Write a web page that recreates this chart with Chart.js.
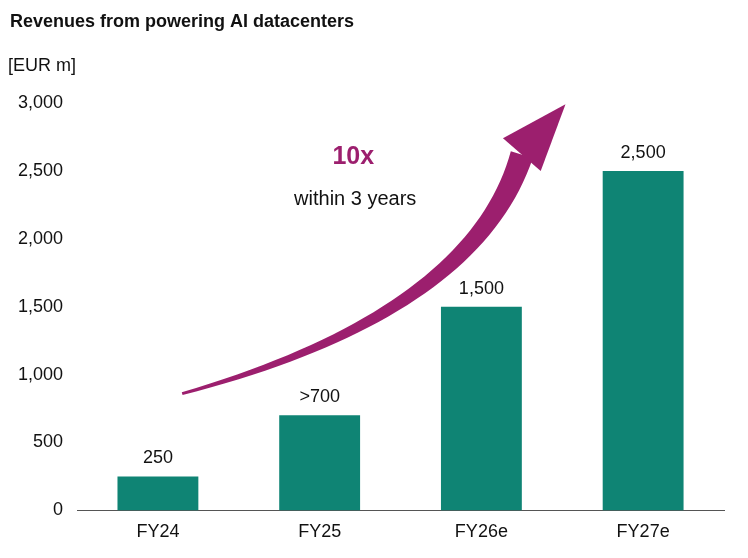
<!DOCTYPE html>
<html>
<head>
<meta charset="UTF-8">
<script src="https://cdn.jsdelivr.net/npm/chart.js"></script>
<style>
  body { margin: 0; background: #fff; }
  #wrap { width: 748px; height: 558px; position: relative; }
</style>
</head>
<body>
<div id="wrap"><canvas id="c"></canvas></div>
<script>
const categories = ['FY24', 'FY25', 'FY26e', 'FY27e'];
const revenues = [250, 700, 1500, 2500];
const valueLabels = ['250', '>700', '1,500', '2,500'];
const yTicks = [0, 500, 1000, 1500, 2000, 2500, 3000];

const teal = '#0f8474';
const magenta = '#9c1f6e';
const font = "'Liberation Sans', Arial, sans-serif";

const decorations = {
  id: 'decorations',
  afterDatasetsDraw(chart) {
    const { ctx, scales: { x, y } } = chart;
    ctx.save();
    // title
    ctx.fillStyle = '#111';
    ctx.font = 'bold 18px ' + font;
    ctx.textBaseline = 'middle';
    ctx.textAlign = 'left';
    ctx.fillText('Revenues from powering AI datacenters', 10, 22);
    ctx.font = '18px ' + font;
    ctx.fillText('[EUR m]', 8, 66);

    // value labels
    ctx.textAlign = 'center';
    ctx.textBaseline = 'bottom';
    ctx.font = '18px ' + font;
    chart.getDatasetMeta(0).data.forEach((bar, i) => {
      ctx.fillText(valueLabels[i], bar.x, bar.y - 9);
    });

    // growth arrow, positioned from the scales
    const step = x.getPixelForValue(1) - x.getPixelForValue(0);
    const p0 = { x: x.getPixelForValue(0) + step * 0.15, y: y.getPixelForValue(860) };
    const pc = { x: x.getPixelForValue(1) + step * 0.95, y: y.getPixelForValue(1450) };
    const p1 = { x: x.getPixelForValue(2) + step * 0.25, y: y.getPixelForValue(2620) };
    const tip = { x: x.getPixelForValue(2) + step * 0.52, y: y.getPixelForValue(2990) };
    const n = 40, left = [], right = [];
    for (let i = 0; i <= n; i++) {
      const t = i / n;
      const px = (1-t)*(1-t)*p0.x + 2*(1-t)*t*pc.x + t*t*p1.x;
      const py = (1-t)*(1-t)*p0.y + 2*(1-t)*t*pc.y + t*t*p1.y;
      const dx = 2*(1-t)*(pc.x-p0.x) + 2*t*(p1.x-pc.x);
      const dy = 2*(1-t)*(pc.y-p0.y) + 2*t*(p1.y-pc.y);
      const len = Math.hypot(dx, dy);
      const w = 1.5 + 10 * t;
      left.push([px - dy/len*w, py + dx/len*w]);
      right.push([px + dy/len*w, py - dx/len*w]);
    }
    ctx.fillStyle = magenta;
    ctx.beginPath();
    ctx.moveTo(left[0][0], left[0][1]);
    left.forEach(p => ctx.lineTo(p[0], p[1]));
    for (let i = right.length - 1; i >= 0; i--) ctx.lineTo(right[i][0], right[i][1]);
    ctx.closePath();
    ctx.fill();
    // head
    const dx = tip.x - p1.x, dy = tip.y - p1.y, L = Math.hypot(dx, dy);
    const nx = -dy / L, ny = dx / L, hw = 25;
    ctx.beginPath();
    ctx.moveTo(tip.x, tip.y);
    ctx.lineTo(p1.x + nx*hw, p1.y + ny*hw);
    ctx.lineTo(p1.x - nx*hw, p1.y - ny*hw);
    ctx.closePath();
    ctx.fill();

    // arrow text
    const tx = x.getPixelForValue(1) + step * 0.22;
    ctx.textBaseline = 'middle';
    ctx.fillStyle = magenta;
    ctx.font = 'bold 25px ' + font;
    ctx.fillText('10x', tx - 2, y.getPixelForValue(2600));
    ctx.fillStyle = '#111';
    ctx.font = '20px ' + font;
    ctx.fillText('within 3 years', tx, y.getPixelForValue(2290));
    ctx.restore();
  }
};

new Chart(document.getElementById('c'), {
  type: 'bar',
  data: {
    labels: categories,
    datasets: [{ data: revenues, backgroundColor: teal, categoryPercentage: 1, barPercentage: 0.5 }]
  },
  options: {
    responsive: true,
    maintainAspectRatio: false,
    animation: false,
    layout: { padding: { top: 103, right: 24, left: 4, bottom: 4 } },
    plugins: { legend: { display: false }, tooltip: { enabled: false } },
    scales: {
      x: {
        grid: { display: false, drawTicks: false },
        border: { color: '#555', width: 1 },
        ticks: { color: '#111', font: { family: font, size: 18 }, padding: 11 }
      },
      y: {
        min: 0, max: 3000,
        afterBuildTicks: axis => { axis.ticks = yTicks.map(v => ({ value: v })); },
        grid: { display: false, drawTicks: false },
        border: { display: false },
        ticks: { color: '#111', font: { family: font, size: 18 }, padding: 14,
          callback: v => v.toLocaleString('en-US') }
      }
    }
  },
  plugins: [decorations]
});
</script>
</body>
</html>
